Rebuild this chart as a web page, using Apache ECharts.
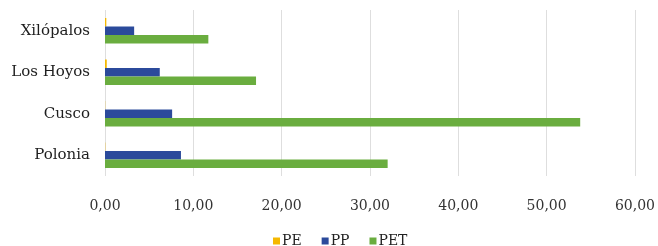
<!DOCTYPE html>
<html>
<head>
<meta charset="utf-8">
<script src="https://cdn.jsdelivr.net/npm/echarts@6/dist/echarts.min.js"></script>
<style>
  html, body { margin: 0; padding: 0; background: #fff; }
  #main { width: 658px; height: 246px; }
</style>
</head>
<body>
<div id="main"></div>
<script>
// categorías de arriba hacia abajo
const categorias = ['Xilópalos', 'Los Hoyos', 'Cusco', 'Polonia'];
const valoresPE = [0.15, 0.2, 0.02, 0.03];
const valoresPP = [3.3, 6.2, 7.6, 8.6];
const valoresPET = [11.7, 17.1, 53.8, 32.0];
const ticksX = [0, 10, 20, 30, 40, 50, 60];

const fuente = 'DejaVu Serif';

const chart = echarts.init(document.getElementById('main'));
chart.setOption({
  animation: false,
  grid: { left: 105, right: 21, top: 10, bottom: 70 },
  legend: {
    data: ['PE', 'PP', 'PET'],
    left: 268,
    top: 229,
    icon: 'rect',
    itemWidth: 7,
    itemHeight: 7,
    itemGap: 20,
    textStyle: { fontFamily: fuente, fontSize: 14, color: '#222', padding: [0, 0, 0, -3] }
  },
  xAxis: {
    type: 'value',
    min: ticksX[0],
    max: ticksX[ticksX.length - 1],
    interval: 10,
    axisLine: { show: false },
    axisTick: { show: false },
    splitLine: { lineStyle: { color: '#dedede', width: 1 } },
    axisLabel: {
      margin: 23,
      fontFamily: fuente,
      fontSize: 14,
      color: '#333',
      formatter: v => v.toFixed(2).replace('.', ',')
    }
  },
  yAxis: {
    type: 'category',
    data: categorias,
    inverse: true,
    axisLine: { show: false },
    axisTick: { show: false },
    axisLabel: { margin: 15, fontFamily: fuente, fontSize: 15, color: '#1e1e1e' }
  },
  series: [
    { name: 'PE', type: 'bar', data: valoresPE, barWidth: 8.5, barGap: 0, itemStyle: { color: '#f5b800' } },
    { name: 'PP', type: 'bar', data: valoresPP, barWidth: 8.5, barGap: 0, itemStyle: { color: '#2b4a9b' } },
    { name: 'PET', type: 'bar', data: valoresPET, barWidth: 8.5, barGap: 0, itemStyle: { color: '#6aad3f' } }
  ]
});
</script>
</body>
</html>
